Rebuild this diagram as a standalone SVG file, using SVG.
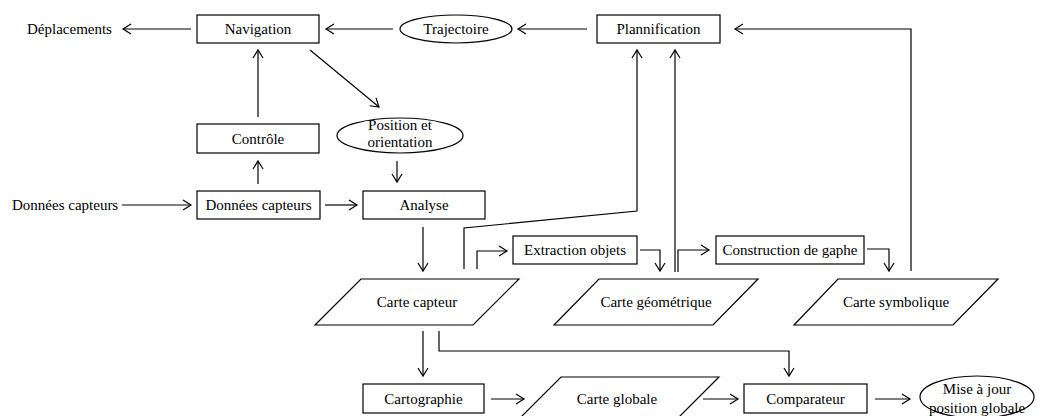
<svg xmlns="http://www.w3.org/2000/svg" width="1048" height="416" viewBox="0 0 1048 416">
<defs>
<style>
.n{fill:#fff;stroke:#000;stroke-width:1.2}
.t{font-family:"Liberation Serif","Times New Roman",serif;font-size:15px;fill:#000;text-anchor:middle}
.l{text-anchor:start}
.c{fill:none;stroke:#000;stroke-width:1.2}
</style>
<marker id="a" markerUnits="userSpaceOnUse" markerWidth="12" markerHeight="12" viewBox="0 0 12 12" refX="9" refY="6" orient="auto">
<path d="M1,1 L9,6 L1,11" fill="none" stroke="#000" stroke-width="1.2"/>
</marker>
</defs>
<rect width="1048" height="416" fill="#fff"/>
<g id="connectors" class="c" marker-end="url(#a)">
<path d="M191,29 H123"/>
<path d="M393,29 H326"/>
<path d="M587,29 H518"/>
<path d="M911,271 V29 H735"/>
<path d="M258,117 V50"/>
<path d="M310,50 L379,107"/>
<path d="M397,161 V182"/>
<path d="M122,205 H191"/>
<path d="M258,184 V161"/>
<path d="M325,205 H357"/>
<path d="M423,227 V271"/>
<path d="M464,269 V228 L637,211 V50"/>
<path d="M477,269 V251 H507"/>
<path d="M640,250 H660 V271"/>
<path d="M675,272 V50"/>
<path d="M678,272 V250 H709"/>
<path d="M867,249 H889 V271"/>
<path d="M423,331 V376"/>
<path d="M439,331 V351 H789 V376"/>
<path d="M491,399 H524"/>
<path d="M703,399 H738"/>
<path d="M875,399 H910"/>
</g>
<g id="deplacements"><text class="t l" x="27" y="34">Déplacements</text></g>
<g id="navigation"><rect class="n" x="197" y="15" width="122" height="28"/><text class="t" x="258" y="34">Navigation</text></g>
<g id="trajectoire"><ellipse class="n" cx="456" cy="29" rx="56" ry="14"/><text class="t" x="456" y="34">Trajectoire</text></g>
<g id="plannification"><rect class="n" x="597" y="15" width="123" height="28"/><text class="t" x="658.5" y="34">Plannification</text></g>
<g id="controle"><rect class="n" x="197" y="124" width="122" height="29"/><text class="t" x="258" y="143.5">Contrôle</text></g>
<g id="position"><ellipse class="n" cx="400" cy="135.5" rx="63" ry="17.5"/><text class="t" x="400" y="130">Position et</text><text class="t" x="400" y="147">orientation</text></g>
<g id="donnees-in"><text class="t l" x="12" y="210">Données capteurs</text></g>
<g id="donnees"><rect class="n" x="197" y="191" width="123" height="28"/><text class="t" x="258.5" y="210">Données capteurs</text></g>
<g id="analyse"><rect class="n" x="363" y="191" width="122" height="28"/><text class="t" x="424" y="210">Analyse</text></g>
<g id="extraction"><rect class="n" x="513" y="236" width="124" height="28"/><text class="t" x="575" y="255">Extraction objets</text></g>
<g id="construction"><rect class="n" x="716" y="236" width="148" height="28"/><text class="t" x="790" y="255">Construction de gaphe</text></g>
<g id="carte-capteur"><polygon class="n" points="361,279 519,279 473,325 315,325"/><text class="t" x="417" y="307">Carte capteur</text></g>
<g id="carte-geometrique"><polygon class="n" points="599,279 758,279 713,325 554,325"/><text class="t" x="656" y="307">Carte géométrique</text></g>
<g id="carte-symbolique"><polygon class="n" points="838,279 998,279 953,325 794,325"/><text class="t" x="896" y="307">Carte symbolique</text></g>
<g id="cartographie"><rect class="n" x="363" y="384" width="121" height="29"/><text class="t" x="423.5" y="404">Cartographie</text></g>
<g id="carte-globale"><polygon class="n" points="561,377 719,377 673,423 515,423"/><text class="t" x="617" y="404">Carte globale</text></g>
<g id="comparateur"><rect class="n" x="744" y="384" width="123" height="29"/><text class="t" x="805.5" y="404">Comparateur</text></g>
<g id="mise-a-jour"><ellipse class="n" cx="977" cy="397" rx="57" ry="21"/><text class="t" x="977" y="394">Mise à jour</text><text class="t" x="977" y="413">position globale</text></g>
</svg>
